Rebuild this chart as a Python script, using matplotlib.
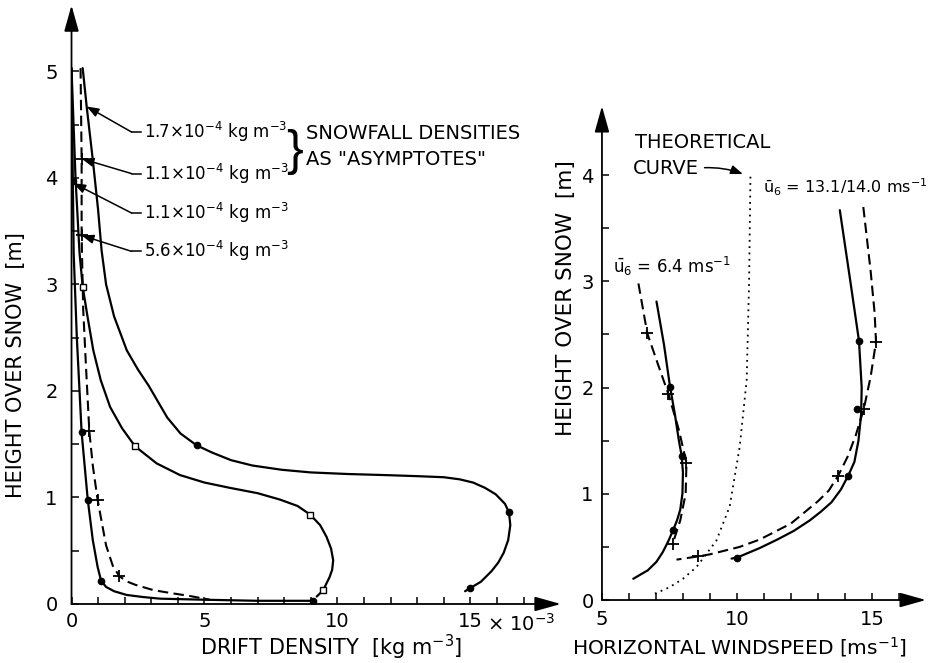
import matplotlib
matplotlib.use("Agg")
import matplotlib.pyplot as plt

plt.rcParams['font.family'] = ['DejaVu Sans']
plt.rcParams['mathtext.default'] = 'regular'

# ---- left panel: drift density [1e-3 kg m^-3] vs height [m] ----
outer_x = [0.42, 0.57, 0.8, 1.0, 1.13, 1.3, 1.6, 2.08, 2.5, 2.9, 3.25, 3.6, 4.1, 4.7, 5.3, 6.0,
           6.8, 7.9, 9.0, 10.4, 11.8, 13.0, 14.0, 14.6, 15.1, 15.55, 15.95, 16.3, 16.45, 16.5,
           16.42, 16.25, 16.05, 15.8, 15.4, 15.0, 14.8]
outer_h = [5.03, 4.67, 4.17, 3.7, 3.32, 3.0, 2.7, 2.38, 2.2, 2.05, 1.9, 1.75, 1.6, 1.49, 1.42, 1.35,
           1.30, 1.26, 1.235, 1.22, 1.21, 1.2, 1.19, 1.17, 1.14, 1.09, 1.03, 0.94, 0.86, 0.74,
           0.6, 0.48, 0.39, 0.31, 0.21, 0.15, 0.12]
outer_mx = [4.7, 16.45, 15.0]
outer_mh = [1.49, 0.86, 0.15]

square_x = [0.0, 0.15, 0.3, 0.42, 0.6, 0.82, 1.1, 1.45, 1.9, 2.39, 3.2, 4.08, 5.0, 5.96, 7.0,
            7.84, 8.5, 8.97, 9.35, 9.59, 9.76, 9.84, 9.8, 9.7, 9.59, 9.47, 9.22]
square_h = [5.03, 4.0, 3.3, 2.98, 2.7, 2.38, 2.1, 1.85, 1.65, 1.48, 1.32, 1.21, 1.14, 1.09, 1.04,
            0.98, 0.92, 0.84, 0.74, 0.63, 0.52, 0.41, 0.32, 0.25, 0.195, 0.13, 0.07]
square_mx = [0.42, 2.39, 8.97, 9.47]
square_mh = [2.98, 1.48, 0.84, 0.13]

dash_x = [0.34, 0.38, 0.38, 0.44, 0.55, 0.67, 0.8, 0.98, 1.15, 1.3, 1.55, 1.8, 2.1, 2.4, 3.08,
          3.8, 4.45, 5.2]
dash_h = [5.03, 4.18, 3.46, 2.76, 2.2, 1.62, 1.3, 0.98, 0.75, 0.55, 0.36, 0.26, 0.21, 0.18, 0.13,
          0.1, 0.075, 0.04]
dash_mx = [0.38, 0.38, 0.67, 0.98, 1.8]
dash_mh = [4.18, 3.46, 1.62, 0.98, 0.26]

inner_x = [0.0, 0.05, 0.08, 0.2, 0.38, 0.61, 0.8, 0.98, 1.11, 1.3, 1.6, 2.07, 2.7, 3.33, 5.0,
           7.0, 9.09]
inner_h = [5.03, 3.97, 3.3, 2.5, 1.61, 0.98, 0.6, 0.35, 0.22, 0.16, 0.12, 0.085, 0.065, 0.05,
           0.04, 0.03, 0.03]
inner_mx = [0.05, 0.38, 0.61, 1.11, 9.09]
inner_mh = [3.97, 1.61, 0.98, 0.22, 0.03]

labels_left = ['1.7×10$^{-4}$ kg m$^{-3}$', '1.1×10$^{-4}$ kg m$^{-3}$',
               '1.1×10$^{-4}$ kg m$^{-3}$', '5.6×10$^{-4}$ kg m$^{-3}$']
tips_x = [0.57, 0.38, 0.07, 0.38]
tips_h = [4.67, 4.18, 3.95, 3.46]
label_h = [4.43, 4.04, 3.67, 3.31]

# ---- right panel: windspeed [m/s] vs height [m] ----
slow_sx = [7.02, 7.3, 7.52, 7.7, 7.85, 7.95, 8.0, 7.98, 7.9, 7.78, 7.64, 7.45, 7.25, 7.02,
           6.7, 6.16]
slow_sh = [2.81, 2.4, 2.01, 1.75, 1.5, 1.36, 1.2, 1.0, 0.85, 0.75, 0.66, 0.55, 0.45, 0.36,
           0.28, 0.2]
slow_smx = [7.52, 7.95, 7.64]
slow_smh = [2.01, 1.36, 0.66]
slow_dx = [6.35, 6.68, 7.1, 7.46, 7.85, 8.13, 8.1, 7.9, 7.62]
slow_dh = [2.98, 2.51, 2.2, 1.94, 1.6, 1.29, 1.0, 0.75, 0.53]
slow_dmx = [6.68, 7.46, 8.13, 7.62]
slow_dmh = [2.51, 1.94, 1.29, 0.53]

fast_sx = [13.81, 14.2, 14.52, 14.62, 14.6, 14.5, 14.35, 14.12, 13.85, 13.5, 13.1, 12.7, 12.1,
           11.5, 10.85, 10.01, 9.8]
fast_sh = [3.67, 3.0, 2.44, 2.0, 1.75, 1.5, 1.3, 1.17, 1.04, 0.92, 0.83, 0.75, 0.65,
           0.57, 0.49, 0.40, 0.39]
fast_smx = [14.52, 14.46, 14.12, 10.01]
fast_smh = [2.44, 1.80, 1.17, 0.40]
fast_dx = [14.68, 14.95, 15.1, 15.15, 14.95, 14.7, 14.4, 14.1, 13.75, 13.4, 13.0, 12.0, 10.85,
           10.1, 9.0, 8.54, 7.76]
fast_dh = [3.70, 3.1, 2.7, 2.43, 2.1, 1.8, 1.55, 1.35, 1.17, 1.03, 0.93, 0.72, 0.57,
           0.5, 0.43, 0.41, 0.38]
fast_dmx = [15.15, 14.7, 13.75, 8.54]
fast_dmh = [2.43, 1.80, 1.17, 0.41]

theory_x = [6.96, 7.5, 8.0, 8.5, 9.24, 9.73, 10.1, 10.36, 10.45, 10.5]
theory_h = [0.06, 0.12, 0.2, 0.31, 0.56, 0.88, 1.44, 2.07, 3.0, 4.0]

fig = plt.figure(figsize=(9.41, 6.63), dpi=100)
ax1 = fig.add_axes([0.076, 0.089, 0.520, 0.903])
ax2 = fig.add_axes([0.6397, 0.095, 0.3443, 0.745])

SOLID = dict(color='k', lw=1.6, solid_capstyle='round', solid_joinstyle='round')
DASHED = dict(color='k', lw=1.5, linestyle=(0, (5, 2.6)))
POINTER = dict(arrowstyle='-|>,head_length=0.8,head_width=0.3', color='k', lw=1.1,
               shrinkA=0, shrinkB=0, mutation_scale=9)


def axis_arrows(ax):
    for s in ax.spines.values():
        s.set_visible(False)
    ap = dict(arrowstyle='-|>,head_length=1.0,head_width=0.28', color='k', lw=1.3,
              shrinkA=0, shrinkB=0, mutation_scale=16)
    ax.annotate('', xy=(1, 0), xytext=(0, 0), xycoords='axes fraction', arrowprops=ap)
    ax.annotate('', xy=(0, 1), xytext=(0, 0), xycoords='axes fraction', arrowprops=ap)


# left panel
ax1.plot(outer_x, outer_h, **SOLID)
ax1.plot(outer_mx, outer_mh, 'o', color='k', ms=4.5)
ax1.plot(square_x, square_h, **SOLID)
ax1.plot(square_mx, square_mh, 's', mfc='white', mec='k', ms=4, mew=1)
ax1.plot(dash_x, dash_h, **DASHED)
ax1.plot(dash_mx, dash_mh, '+', color='k', ms=8, mew=1.3)
ax1.plot(inner_x, inner_h, **SOLID)
ax1.plot(inner_mx, inner_mh, 'o', color='k', ms=4.5)

for lab, tx, th, lh in zip(labels_left, tips_x, tips_h, label_h):
    ax1.plot([2.26, 2.6], [lh, lh], color='k', lw=1.1)
    ax1.annotate('', xy=(tx, th), xytext=(2.26, lh), arrowprops=POINTER)
    ax1.text(2.72, lh, lab, fontsize=12, ha='left', va='center')

ax1.text(8.4, 4.24, '}', fontsize=36, ha='center', va='center', family='Liberation Sans')
ax1.text(8.8, 4.42, 'SNOWFALL DENSITIES', fontsize=14, ha='left', va='center')
ax1.text(8.8, 4.17, 'AS "ASYMPTOTES"', fontsize=14, ha='left', va='center')

ax1.set_xlim(0, 18.4)
ax1.set_ylim(0, 5.62)
ax1.set_xticks([0, 5, 10, 15])
ax1.set_xticklabels(['0', '5', '10', '15'])
ax1.set_xticks(range(0, 18), minor=True)
ax1.set_yticks([0, 1, 2, 3, 4, 5])
ax1.set_yticks([0.5, 1.5, 2.5, 3.5, 4.5], minor=True)
ax1.tick_params(axis='both', which='both', direction='in', length=5, width=1.1, labelsize=14)
ax1.tick_params(axis='y', pad=10)
ax1.tick_params(axis='x', pad=6)
ax1.text(15.62, -0.085, '× 10$^{-3}$', fontsize=14, ha='left', va='top')
axis_arrows(ax1)

# right panel
ax2.plot(theory_x, theory_h, color='k', lw=1.3, linestyle=(0, (1, 2.5)))
ax2.plot(slow_sx, slow_sh, **SOLID)
ax2.plot(slow_smx, slow_smh, 'o', color='k', ms=4.5)
ax2.plot(slow_dx, slow_dh, **DASHED)
ax2.plot(slow_dmx, slow_dmh, '+', color='k', ms=8, mew=1.3)
ax2.plot(fast_sx, fast_sh, **SOLID)
ax2.plot(fast_smx, fast_smh, 'o', color='k', ms=4.5)
ax2.plot(fast_dx, fast_dh, **DASHED)
ax2.plot(fast_dmx, fast_dmh, '+', color='k', ms=8, mew=1.3)

ax2.text(6.22, 4.31, 'THEORETICAL', fontsize=14, ha='left', va='center')
ax2.text(6.15, 4.06, 'CURVE', fontsize=14, ha='left', va='center')
ax2.annotate('', xy=(10.22, 4.01), xytext=(8.8, 4.07),
             arrowprops=dict(POINTER, connectionstyle='arc3,rad=-0.1'))
ax2.text(10.95, 3.89, r'$\bar{u}_6$ = 13.1/14.0 ms$^{-1}$', fontsize=11.5, ha='left', va='center')
ax2.text(5.41, 3.14, r'$\bar{u}_6$ = 6.4 ms$^{-1}$', fontsize=12, ha='left', va='center')

ax2.set_xlim(5, 17.0)
ax2.set_ylim(0, 4.65)
ax2.set_xticks([5, 10, 15])
ax2.set_xticks(range(5, 17), minor=True)
ax2.set_yticks([0, 1, 2, 3, 4])
ax2.set_yticks([0.5, 1.5, 2.5, 3.5], minor=True)
ax2.tick_params(axis='both', which='both', direction='in', length=5, width=1.1, labelsize=14)
ax2.tick_params(axis='y', pad=6)
ax2.tick_params(axis='x', pad=7)
axis_arrows(ax2)

# axis titles
fig.text(331 / 941, 1 - 647 / 663, 'DRIFT DENSITY  [kg m$^{-3}$]', fontsize=15, ha='center', va='center')
fig.text(739 / 941, 1 - 647 / 663, 'HORIZONTAL WINDSPEED [ms$^{-1}$]', fontsize=14.5, ha='center', va='center')
fig.text(16 / 941, 1 - 365 / 663, 'HEIGHT OVER SNOW  [m]', fontsize=15, rotation=90, ha='center', va='center')
fig.text(566 / 941, 1 - 298 / 663, 'HEIGHT OVER SNOW  [m]', fontsize=15.5, rotation=90, ha='center', va='center')

fig.savefig('out.png', dpi=100)
